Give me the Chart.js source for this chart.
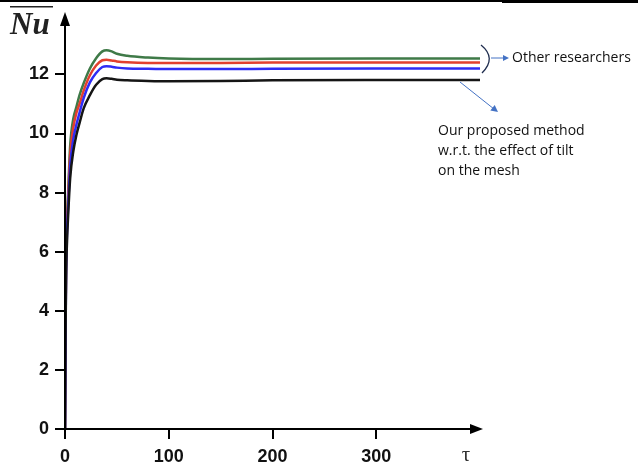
<!DOCTYPE html>
<html><head><meta charset="utf-8">
<script src="https://cdn.jsdelivr.net/npm/chart.js@4"></script>
<style>html,body{margin:0;padding:0;background:#fff}#wrap{width:638px;height:466px;position:relative}</style>
</head><body><div id="wrap"><canvas id="c" width="638" height="466"></canvas></div>
<script>
const tau = [0, 0.5, 1, 2, 3, 5, 8, 11, 14, 18, 24, 30, 36, 40, 45, 50, 60, 80, 100, 150, 200, 300, 400];
const nuGreen = [0, 3.5, 5.6, 7.1, 8.0, 9.6, 10.5, 10.9, 11.3, 11.7, 12.2, 12.55, 12.78, 12.82, 12.78, 12.7, 12.63, 12.57, 12.54, 12.52, 12.53, 12.54, 12.54];
const nuRed = [0, 3.3, 5.4, 6.9, 7.8, 9.3, 10.2, 10.7, 11.0, 11.45, 11.97, 12.3, 12.48, 12.5, 12.47, 12.44, 12.41, 12.39, 12.39, 12.39, 12.4, 12.4, 12.4];
const nuBlue = [0, 3.1, 5.2, 6.7, 7.5, 8.9, 9.8, 10.3, 10.7, 11.2, 11.73, 12.05, 12.25, 12.28, 12.26, 12.23, 12.2, 12.19, 12.18, 12.18, 12.19, 12.2, 12.2];
const nuBlack = [0, 2.9, 5.0, 6.4, 7.2, 8.5, 9.4, 9.95, 10.35, 10.85, 11.3, 11.65, 11.84, 11.87, 11.85, 11.82, 11.8, 11.78, 11.77, 11.78, 11.8, 11.81, 11.81];
const xTicks = [0, 100, 200, 300];
const yTicks = [0, 2, 4, 6, 8, 10, 12];

const pts = arr => arr.map((v, i) => ({x: tau[i], y: v}));
const ds = (arr, color) => ({data: pts(arr), borderColor: color, borderWidth: 2.5, pointRadius: 0, fill: false, cubicInterpolationMode: 'monotone'});

const deco = {
  id: 'deco',
  afterDraw(chart) {
    const c = chart.ctx;
    const x0 = chart.scales.x.getPixelForValue(0), y0 = chart.scales.y.getPixelForValue(0);
    c.save();
    // top border line
    c.fillStyle = '#000';
    c.fillRect(0, 0, 502, 2);
    c.fillRect(502, 0, 136, 3);
    // axes
    c.strokeStyle = '#000'; c.lineWidth = 2;
    c.beginPath(); c.moveTo(x0 - 1, y0); c.lineTo(474, y0); c.stroke();
    c.beginPath(); c.moveTo(x0, y0 + 1); c.lineTo(x0, 24); c.stroke();
    c.beginPath(); c.moveTo(483, y0); c.lineTo(470, y0 - 5); c.lineTo(470, y0 + 5); c.closePath(); c.fill();
    c.beginPath(); c.moveTo(x0, 12); c.lineTo(x0 - 5, 26); c.lineTo(x0 + 5, 26); c.closePath(); c.fill();
    // Nu label with overline
    c.font = 'bold italic 31px "Liberation Serif"';
    c.textBaseline = 'alphabetic'; c.textAlign = 'left';
    c.fillStyle = '#222';
    c.fillText('Nu', 10, 34);
    c.fillRect(10, 6, 43, 1.5);
    // tau
    c.font = '21px "Liberation Serif"';
    c.textAlign = 'center'; c.textBaseline = 'middle';
    c.fillStyle = '#333';
    c.fillText('τ', 466, 455);
    // bracket
    c.strokeStyle = '#1f2d4f'; c.lineWidth = 1.3;
    c.beginPath(); c.moveTo(481, 45); c.quadraticCurveTo(497, 58, 482, 73); c.stroke();
    // arrow to Other researchers
    c.strokeStyle = '#4472c4'; c.fillStyle = '#4472c4'; c.lineWidth = 1;
    c.beginPath(); c.moveTo(491, 58); c.lineTo(504, 58); c.stroke();
    c.beginPath(); c.moveTo(509, 58); c.lineTo(503, 55); c.lineTo(503, 61); c.closePath(); c.fill();
    // diagonal arrow
    c.beginPath(); c.moveTo(460, 82); c.lineTo(494, 109); c.stroke();
    const ang = Math.atan2(27, 34);
    c.save(); c.translate(498, 112); c.rotate(ang);
    c.beginPath(); c.moveTo(0, 0); c.lineTo(-7, -3.5); c.lineTo(-7, 3.5); c.closePath(); c.fill();
    c.restore();
    // texts
    c.fillStyle = '#111'; c.textAlign = 'left'; c.textBaseline = 'middle';
    c.font = '14px "Open Sans"';
    c.fillText('Other researchers', 512, 58);
    c.fillText('Our proposed method', 438, 131);
    c.fillText('w.r.t. the effect of tilt', 438, 151);
    c.fillText('on the mesh', 438, 171);
    c.restore();
  }
};

new Chart(document.getElementById('c'), {
  type: 'line',
  data: {datasets: [ds(nuBlack, '#151515'), ds(nuBlue, '#2f2cf5'), ds(nuRed, '#e2402f'), ds(nuGreen, '#3f7a48')]},
  options: {
    responsive: false, animation: false,
    layout: {padding: {left: 0, right: 158, top: 15, bottom: 0}},
    plugins: {legend: {display: false}, tooltip: {enabled: false}},
    scales: {
      x: {type: 'linear', min: 0, max: 400,
        afterFit: s => { s.height = 37; },
        afterBuildTicks: s => { s.ticks = xTicks.map(v => ({value: v})); },
        border: {display: false},
        grid: {drawOnChartArea: false, drawTicks: true, tickLength: 10, color: '#000', lineWidth: 2},
        ticks: {color: '#111', padding: 7, maxRotation: 0, font: {family: '"Liberation Sans"', weight: 'bold', size: 18}}
      },
      y: {type: 'linear', min: 0, max: 13.95,
        afterFit: s => { s.width = 65; },
        afterBuildTicks: s => { s.ticks = yTicks.map(v => ({value: v})); },
        border: {display: false},
        grid: {drawOnChartArea: false, drawTicks: true, tickLength: 10, color: '#000', lineWidth: 2},
        ticks: {color: '#111', padding: 6, font: {family: '"Liberation Sans"', weight: 'bold', size: 18}}
      }
    }
  },
  plugins: [deco]
});
</script></body></html>
